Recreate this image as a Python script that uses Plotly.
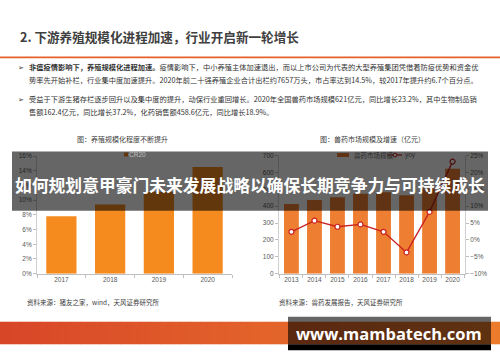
import plotly.graph_objects as go

W, H = 500, 362
def px(x): return x / W
def py(y): return 1 - y / H

# ---------------- data ----------------
cr_years = ["2017", "2018", "2019", "2020"]
cr20 = [7.8, 9.4, 11.1, 14.5]

vet_years = ["2013", "2014", "2015", "2016", "2017", "2018", "2019", "2020"]
vet_market = [413, 436, 453, 473, 483, 465, 504, 621]
vet_yoy = [2.4, 5.7, 3.9, 4.6, 2.4, -3.7, 8.3, 23.2]

title_text = "2. 下游养殖规模化进程加速，行业开启新一轮增长"
bullet_lines = [
    "<b>非瘟疫情影响下，养殖规模化进程加速。</b>疫情影响下，中小养殖主体加速退出，而以上市公司为代表的大型养殖集团凭借着防疫优势和资金优",
    "势率先开始补栏，行业集中度加速提升。2020年前二十强养殖企业合计出栏约7657万头，市占率达到14.5%，较2017年提升约6.7个百分点。",
    "受益于下游生猪存栏逐步回升以及集中度的提升，动保行业重回增长。2020年全国兽药市场规模621亿元，同比增长23.2%，其中生物制品销",
    "售额162.4亿元，同比增长37.2%，化药销售额458.6亿元，同比增长18.9%。",
]
left_title = "图：养殖规模化程度不断提升"
right_title = "图：兽药市场规模及增速（亿元）"
left_source = "资料来源：猪友之家，wind，天风证券研究所"
right_source = "资料来源：兽药发展报告，天风证券研究所"
banner_text = "如何规划意甲豪门未来发展战略以确保长期竞争力与可持续成长"
watermark = "www.mambatech.com"

CJK = "Noto Sans CJK SC"
NUM = "Liberation Sans, Noto Sans CJK SC"
ORANGE_L = "#f58a1f"
ORANGE_R = "#ee7f32"
RED = "#c8201e"

fig = go.Figure()
fig.add_trace(go.Bar(x=cr_years, y=cr20, xaxis="x", yaxis="y",
                     marker=dict(color=ORANGE_L, line=dict(width=0)), width=0.62, name="CR20"))
fig.add_trace(go.Bar(x=vet_years, y=vet_market, xaxis="x2", yaxis="y2",
                     marker=dict(color=ORANGE_R, line=dict(width=0)), width=0.645, name="兽药市场规模"))
fig.add_trace(go.Scatter(x=vet_years, y=vet_yoy, xaxis="x2", yaxis="y3", mode="lines+markers",
                         line=dict(color=RED, width=1.3),
                         marker=dict(size=5, color="white", line=dict(color=RED, width=1.2)), name="yoy"))

tickfont = dict(family=NUM, size=6.5, color="#595959")
common_y = dict(showgrid=False, zeroline=False, showline=True, linecolor="#d0d0d0",
                ticks="outside", ticklen=3, tickcolor="#c0c0c0", tickfont=tickfont)
common_x = dict(type="category", showgrid=False, showline=True, linecolor="#bfbfbf",
                ticks="outside", tickson="boundaries", ticklen=3, tickcolor="#bfbfbf", tickangle=0,
                tickfont=dict(family=NUM, size=6.5, color="#595959"))

fig.update_layout(
    width=W, height=H, margin=dict(l=0, r=0, t=0, b=0),
    paper_bgcolor="white", plot_bgcolor="rgba(0,0,0,0)", showlegend=False,
    xaxis=dict(domain=[px(37), px(232)], anchor="y", **common_x),
    yaxis=dict(domain=[py(275), py(155)], anchor="x", range=[0, 16], dtick=2, ticksuffix="%", **common_y),
    xaxis2=dict(domain=[px(279), px(465)], anchor="y2", **common_x),
    yaxis2=dict(domain=[py(275), py(154.5)], anchor="x2", range=[0, 700], dtick=100, **common_y),
    yaxis3=dict(overlaying="y2", side="right", anchor="x2", range=[-10, 25], dtick=5, ticksuffix="%", **common_y),
)

ann = []
def text(x, y, t, size, color="#333333", family=CJK, xanchor="left", **kw):
    ann.append(dict(x=px(x), y=py(y), xref="paper", yref="paper", text=t, showarrow=False,
                    xanchor=xanchor, yanchor="middle", font=dict(family=family, size=size, color=color), **kw))

text(18, 33, "<b>" + title_text + "</b>", 12.6, color="#404040")
line_y = [64, 78, 97, 110]
for t, y in zip(bullet_lines, line_y):
    text(27, y, t, 7.25, color="#333333")
text(16, 64, "➢", 7, color="#333333")
text(16, 97, "➢", 7, color="#333333")
text(122, 138, left_title, 7, color="#404040", xanchor="center")
text(372, 138, right_title, 7, color="#404040", xanchor="center")
text(25, 304, left_source, 6.5, color="#404040")
text(277, 304, right_source, 6.5, color="#404040")
# legends
text(127, 153, "CR20", 6.5, color="#c0c0c0", family=NUM)
text(352, 154, "兽药市场规模", 6.5, color="#2e2e2e")
text(403, 154, "yoy", 6.5, color="#2e2e2e", family=NUM)
# banner text
text(250, 185, "<b>" + banner_text + "</b>", 16.8, color="white", xanchor="center")
# watermark
text(389, 336, "<b>" + watermark + "</b>", 16.5, color="white", family="Open Sans, DejaVu Sans", xanchor="center")

shapes = []
def rect(x0, y0, x1, y1, color, **kw):
    shapes.append(dict(type="rect", xref="paper", yref="paper", x0=px(x0), x1=px(x1),
                       y0=py(y1), y1=py(y0), fillcolor=color, line=dict(width=0), layer="above", **kw))

# title underline
rect(0, 53.6, 500, 55.2, "#e5602b")
# footer gradient band
n = 50
c0, c1 = (216, 70, 40), (236, 124, 44)
for i in range(n):
    f = i / (n - 1)
    c = tuple(round(a + (b - a) * f) for a, b in zip(c0, c1))
    rect(500 * i / n, 324, 500 * (i + 1) / n + 0.5, 347, "rgb(%d,%d,%d)" % c)
# legend swatches
rect(124, 151.5, 128, 155.5, ORANGE_L)
rect(337, 152, 349, 156, ORANGE_R)
shapes.append(dict(type="line", xref="paper", yref="paper", x0=px(388), x1=px(402), y0=py(154), y1=py(154),
                   line=dict(color=RED, width=1.2), layer="above"))
shapes.append(dict(type="circle", xref="paper", yref="paper", x0=px(393), x1=px(397), y0=py(156), y1=py(152),
                   fillcolor="white", line=dict(color=RED, width=1), layer="above"))
# dark overlay band
rect(12, 150.5, 488, 210.7, "rgba(0,0,0,0.6)")
# watermark box
rect(288, 319, 491, 347, "rgba(0,0,0,0.6)")
rect(288, 347, 491, 353, "black")

fig.update_layout(annotations=ann, shapes=shapes)
fig.write_html("out.html")
